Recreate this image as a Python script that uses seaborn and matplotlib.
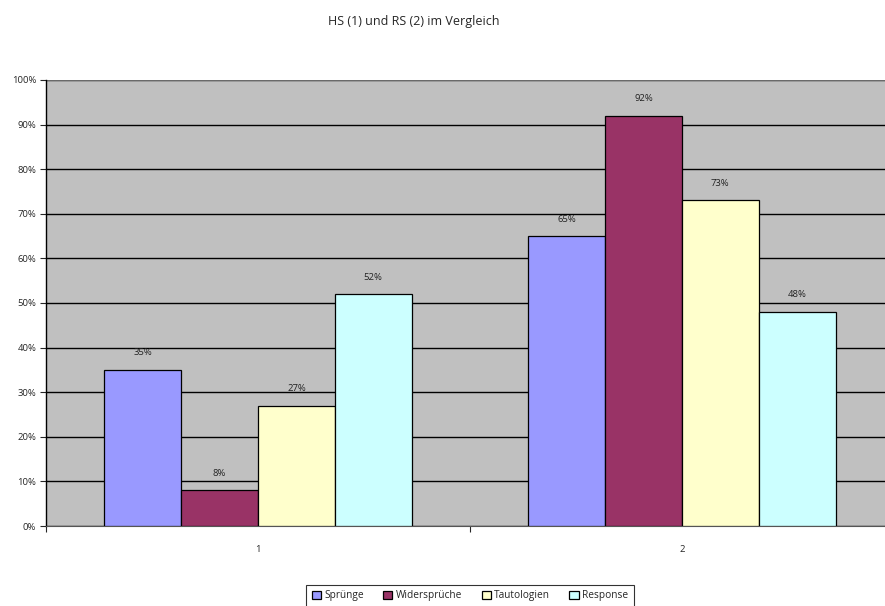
import matplotlib
matplotlib.use("Agg")
import matplotlib.pyplot as plt
import seaborn as sns
import pandas as pd
from matplotlib.ticker import FixedLocator, FuncFormatter

# data
groups = ["1", "2"]
series = ["Sprünge", "Widersprüche", "Tautologien", "Response"]
spruenge = [35, 65]
widersprueche = [8, 92]
tautologien = [27, 73]
response = [52, 48]
colors = ["#9999FF", "#993366", "#FFFFCC", "#CCFFFF"]

df = pd.DataFrame({
    "gruppe": groups * 4,
    "serie": [s for s in series for _ in groups],
    "wert": spruenge + widersprueche + tautologien + response,
})

sns.set_style("white")
plt.rcParams["font.family"] = ["Open Sans", "DejaVu Sans"]

fig = plt.figure(figsize=(8.85, 6.06), dpi=100)
# plot area runs a little past the right edge of the picture
ax = fig.add_axes([0.052, 0.132, 0.958, 0.736])
ax.set_facecolor("#C0C0C0")

sns.barplot(data=df, x="gruppe", y="wert", hue="serie", hue_order=series,
            palette=colors, width=0.725, edgecolor="black", linewidth=0.9,
            saturation=1, ax=ax, zorder=3, legend=True)

for c in ax.containers:
    ax.bar_label(c, labels=[f"{v:.0f}%" for v in c.datavalues],
                 padding=9, fontsize=6.8, color="#222222")

ax.set_ylim(0, 100)
ax.set_xlim(-0.5, 1.5)
ax.yaxis.set_major_locator(FixedLocator(range(0, 101, 10)))
ax.yaxis.set_major_formatter(FuncFormatter(lambda v, _: f"{v:.0f}%"))
ax.grid(axis="y", color="black", linewidth=1.0, zorder=0)
ax.set_axisbelow(True)
ax.axhline(100, color="#808080", linewidth=1.2, zorder=1)
ax.tick_params(axis="y", labelsize=6.8, length=4, width=0.8, direction="out",
               left=True, pad=3)
ax.tick_params(axis="x", labelsize=6.8, length=0, pad=14)
ax.xaxis.set_minor_locator(FixedLocator([-0.5, 0.5, 1.5]))
ax.tick_params(axis="x", which="minor", length=4, width=0.8, bottom=True)
ax.set_xlabel(""); ax.set_ylabel("")

for side in ["top", "right"]:
    ax.spines[side].set_visible(False)
ax.spines["left"].set_color("black")
ax.spines["bottom"].set_color("#555555")
ax.spines["left"].set_linewidth(1.0)

fig.text(0.467, 0.965, "HS (1) und RS (2) im Vergleich",
         ha="center", va="center", fontsize=9)

handles, labels = ax.get_legend_handles_labels()
ax.get_legend().remove()
leg = fig.legend(handles, labels, loc="lower center", bbox_to_anchor=(0.531, -0.01),
                 ncol=4, fontsize=7.3, frameon=True, fancybox=False,
                 edgecolor="black", handlelength=0.9, handleheight=0.9,
                 handletextpad=0.35, columnspacing=1.9, borderpad=0.55)
leg.get_frame().set_linewidth(0.8)

fig.savefig("out.png", dpi=100)
